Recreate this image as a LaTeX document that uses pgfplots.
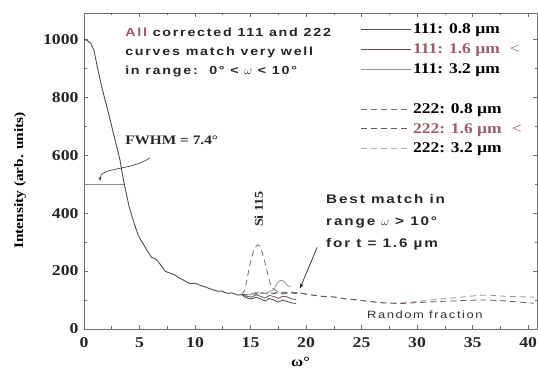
\documentclass[border=0pt]{standalone}
\usepackage{pgfplots}
\pgfplotsset{compat=1.18}
\usepackage{pgfplotstable}
\usepackage{fontspec}
\setmainfont{Liberation Serif}[FakeStretch=1.18]
\setsansfont{Liberation Sans}
\newfontfamily\annot{Liberation Sans}[FakeStretch=1.22, LetterSpace=15]
\usetikzlibrary{arrows.meta}

\definecolor{cA}{RGB}{78,78,80}
\definecolor{cB}{RGB}{112,82,88}
\definecolor{cC}{RGB}{150,150,152}
\definecolor{hl}{RGB}{158,92,102}
\definecolor{frame}{RGB}{110,110,110}

% common decay (identical for all corrected curves below 14.2 deg)
\pgfplotstableread{
x y
0 1000
0.3 996
0.6 986
0.9 962
1.2 905
1.5 852
1.9 790
2.3 732
2.65 675
3.0 622
3.25 582
3.55 515
3.8 470
4.05 425
4.3 392
4.6 355
4.9 322
5.2 302
5.5 283
5.8 264
6.1 247
6.4 243
6.7 232
7.0 216
7.3 200
7.6 195
7.9 191
8.2 186
8.5 178
8.8 172
9.1 166
9.4 159
9.7 157
10.0 158
10.3 153
10.6 149
10.9 146
11.2 141
11.5 137
11.8 133
12.1 130
12.4 131
12.7 126
13.0 123
13.3 125
13.6 121
13.9 117
14.2 119
}\base

% tails of the individual curves
\pgfplotstableread{
x y
14.2 119
14.5 110
14.8 106
15.1 104
15.5 110
15.9 104
16.3 97
16.7 105
17.1 100
17.5 93
17.9 99
18.3 95
18.7 90
19.1 88
}\aa
\pgfplotstableread{
x y
14.2 119
14.5 114
14.8 112
15.1 110
15.5 118
15.9 113
16.3 107
16.7 116
17.1 112
17.5 106
17.9 113
18.3 111
18.7 104
19.1 101
}\ab
\pgfplotstableread{
x y
14.2 119
14.5 116
14.8 118
15.1 120
15.5 127
15.9 123
16.3 122
16.7 129
17.1 136
17.4 158
17.7 168
18.0 166
18.3 150
18.6 146
}\ac
\pgfplotstableread{
x y
14.2 119
14.5 135
14.9 215
15.3 275
15.6 290
15.9 285
16.3 230
16.7 165
17.0 140
17.4 130
17.8 127
18.2 125
18.6 128
19.0 126
19.5 124
}\ba
\pgfplotstableread{
x y
14.2 119
14.8 118
15.2 121
15.6 120
16.0 124
16.5 121
17.0 122
17.5 125
18.0 121
18.5 125
19.0 123
19.5 123
20.5 117
21.5 112
22.5 111
23.5 104
24.5 101
25.5 96
26.5 91
27.5 89
28.5 88
29.5 90
30.5 92
31.5 94
32.5 96
33.5 97
34.5 99
35.5 100
36.5 100
37.5 98
38.5 95
39.5 92
40.5 89
}\bb
\pgfplotstableread{
x y
14.2 119
14.8 120
15.2 124
15.6 122
16.0 126
16.5 123
17.0 124
17.5 127
18.0 124
18.5 127
19.0 126
19.5 125
20.5 118
21.5 113
22.5 110
23.5 105
24.5 100
25.5 97
26.5 92
27.5 90
28.5 90
29.5 93
30.5 97
31.5 101
32.5 105
33.5 108
34.5 112
35.5 116
36.5 117
37.5 114
38.5 112
39.5 111
40.5 110
}\bc

\begin{document}
\begin{tikzpicture}[x=1pt,y=1pt]
\useasboundingbox (0,0) rectangle (538,372);
\begin{axis}[
  at={(84pt,43pt)}, anchor=south west,
  scale only axis, width=453pt, height=316pt,
  xmin=0, xmax=40.8, ymin=0, ymax=1091,
  xtick={0,5,...,40}, ytick={0,200,...,1000},
  minor x tick num=1, minor y tick num=1,
  tick align=inside,
  major tick length=4pt, minor tick length=2.5pt,
  axis line style={draw=frame, line width=0.8pt},
  every tick/.style={draw=frame, line width=0.6pt},
  /pgf/number format/assume math mode=true,
  /pgf/number format/1000 sep={},
  tick label style={font=\fontsize{15}{17}\selectfont\bfseries, text=black!85},
  xticklabel style={yshift=-5pt},
  yticklabel style={xshift=-2pt},
  xlabel={ω°},
  ylabel={Intensity (arb. units)},
  label style={font=\fontsize{13}{15}\selectfont\bfseries},
  x label style={at={(axis description cs:0.478,0)}, anchor=north, yshift=-25pt,
    font=\fontsize{14}{15}\selectfont\bfseries},
  y label style={at={(axis description cs:-0.141,0.47)}, anchor=center},
  legend style={draw=none, fill=none, at={(axis description cs:0.603,0.978)}, anchor=north west,
    font=\fontsize{14.8}{16}\selectfont\bfseries, row sep=4.5pt,
    /tikz/every even column/.style={column sep=1pt}},
  legend cell align=left,
  legend image code/.code={\draw[#1] (0pt,0pt) -- (50pt,0pt);},
  clip=false,
]
% half-maximum guide
\addplot[draw=black!45, line width=0.5pt, forget plot] coordinates {(0,500) (3.6,500)};

% 222 curves (dashed)
\addplot[cC, line width=0.8pt, dash pattern=on 6pt off 4pt, forget plot] table {\bc};
\addplot[cB, line width=0.8pt, dash pattern=on 6pt off 4pt, forget plot] table {\bb};
\addplot[cA!80, line width=0.8pt, dash pattern=on 6pt off 4pt, forget plot] table {\ba};
% 111 curves (solid)
\addplot[cC, line width=0.8pt, forget plot] table {\ac};
\addplot[cB, line width=0.8pt, forget plot] table {\ab};
\addplot[cA, line width=0.8pt, forget plot] table {\aa};
\addplot[cA, line width=0.9pt, forget plot] table {\base};

\addlegendimage{cA, line width=0.8pt}
\addlegendentry{111: 0.8 µm}
\addlegendimage{cB, line width=0.8pt}
\addlegendentry{\textcolor{hl}{111: 1.6 µm}\hspace{10pt}\textcolor{hl}{\mdseries <}}
\addlegendimage{cC, line width=0.8pt}
\addlegendentry{111: 3.2 µm}
\addlegendimage{empty legend}
\addlegendentry{\phantom{1}}
\addlegendimage{cA!80, line width=0.8pt, dash pattern=on 6pt off 4pt}
\addlegendentry{222: 0.8 µm}
\addlegendimage{cB, line width=0.8pt, dash pattern=on 6pt off 4pt}
\addlegendentry{\textcolor{hl}{222: 1.6 µm}\hspace{10pt}\textcolor{hl}{\mdseries <}}
\addlegendimage{cC!70, line width=0.8pt, dash pattern=on 6pt off 4pt}
\addlegendentry{222: 3.2 µm}

% annotations
\node[anchor=north west, align=left, font=\annot\bfseries\fontsize{11.7}{19}\selectfont, text=black!85]
  at (axis cs:3.4,1052) {\textcolor{hl}{All} corrected 111 and 222\\curves match very well\\in range:\ \ 0° < $\omega$ < 10°};
\node[anchor=west, font=\bfseries\fontsize{13}{15}\selectfont, text=black!85]
  at (axis cs:3.4,653) {FWHM = 7.4°};
\draw[-{Stealth[length=4pt]}, line width=0.6pt, black!80]
  (axis cs:5.95,591) .. controls (axis cs:4.2,545) and (axis cs:1.4,560) .. (axis cs:1.45,511);
\node[rotate=90, font=\bfseries\fontsize{12}{14}\selectfont, text=black!85]
  at (axis cs:15.75,414) {Si 115};
\node[anchor=north west, align=left, font=\annot\bfseries\fontsize{12.5}{22}\selectfont, text=black!85]
  at (axis cs:21.5,476) {Best match in\\range $\omega$ > 10°\\for t = 1.6 µm};
\draw[-{Stealth[length=5pt]}, line width=0.7pt, black!85]
  (axis cs:21.0,282) -- (axis cs:19.45,140);
\node[font=\annot\fontsize{10.6}{13}\selectfont, text=black!80]
  at (axis cs:30.7,48) {Random fraction};
\end{axis}
\end{tikzpicture}
\end{document}
